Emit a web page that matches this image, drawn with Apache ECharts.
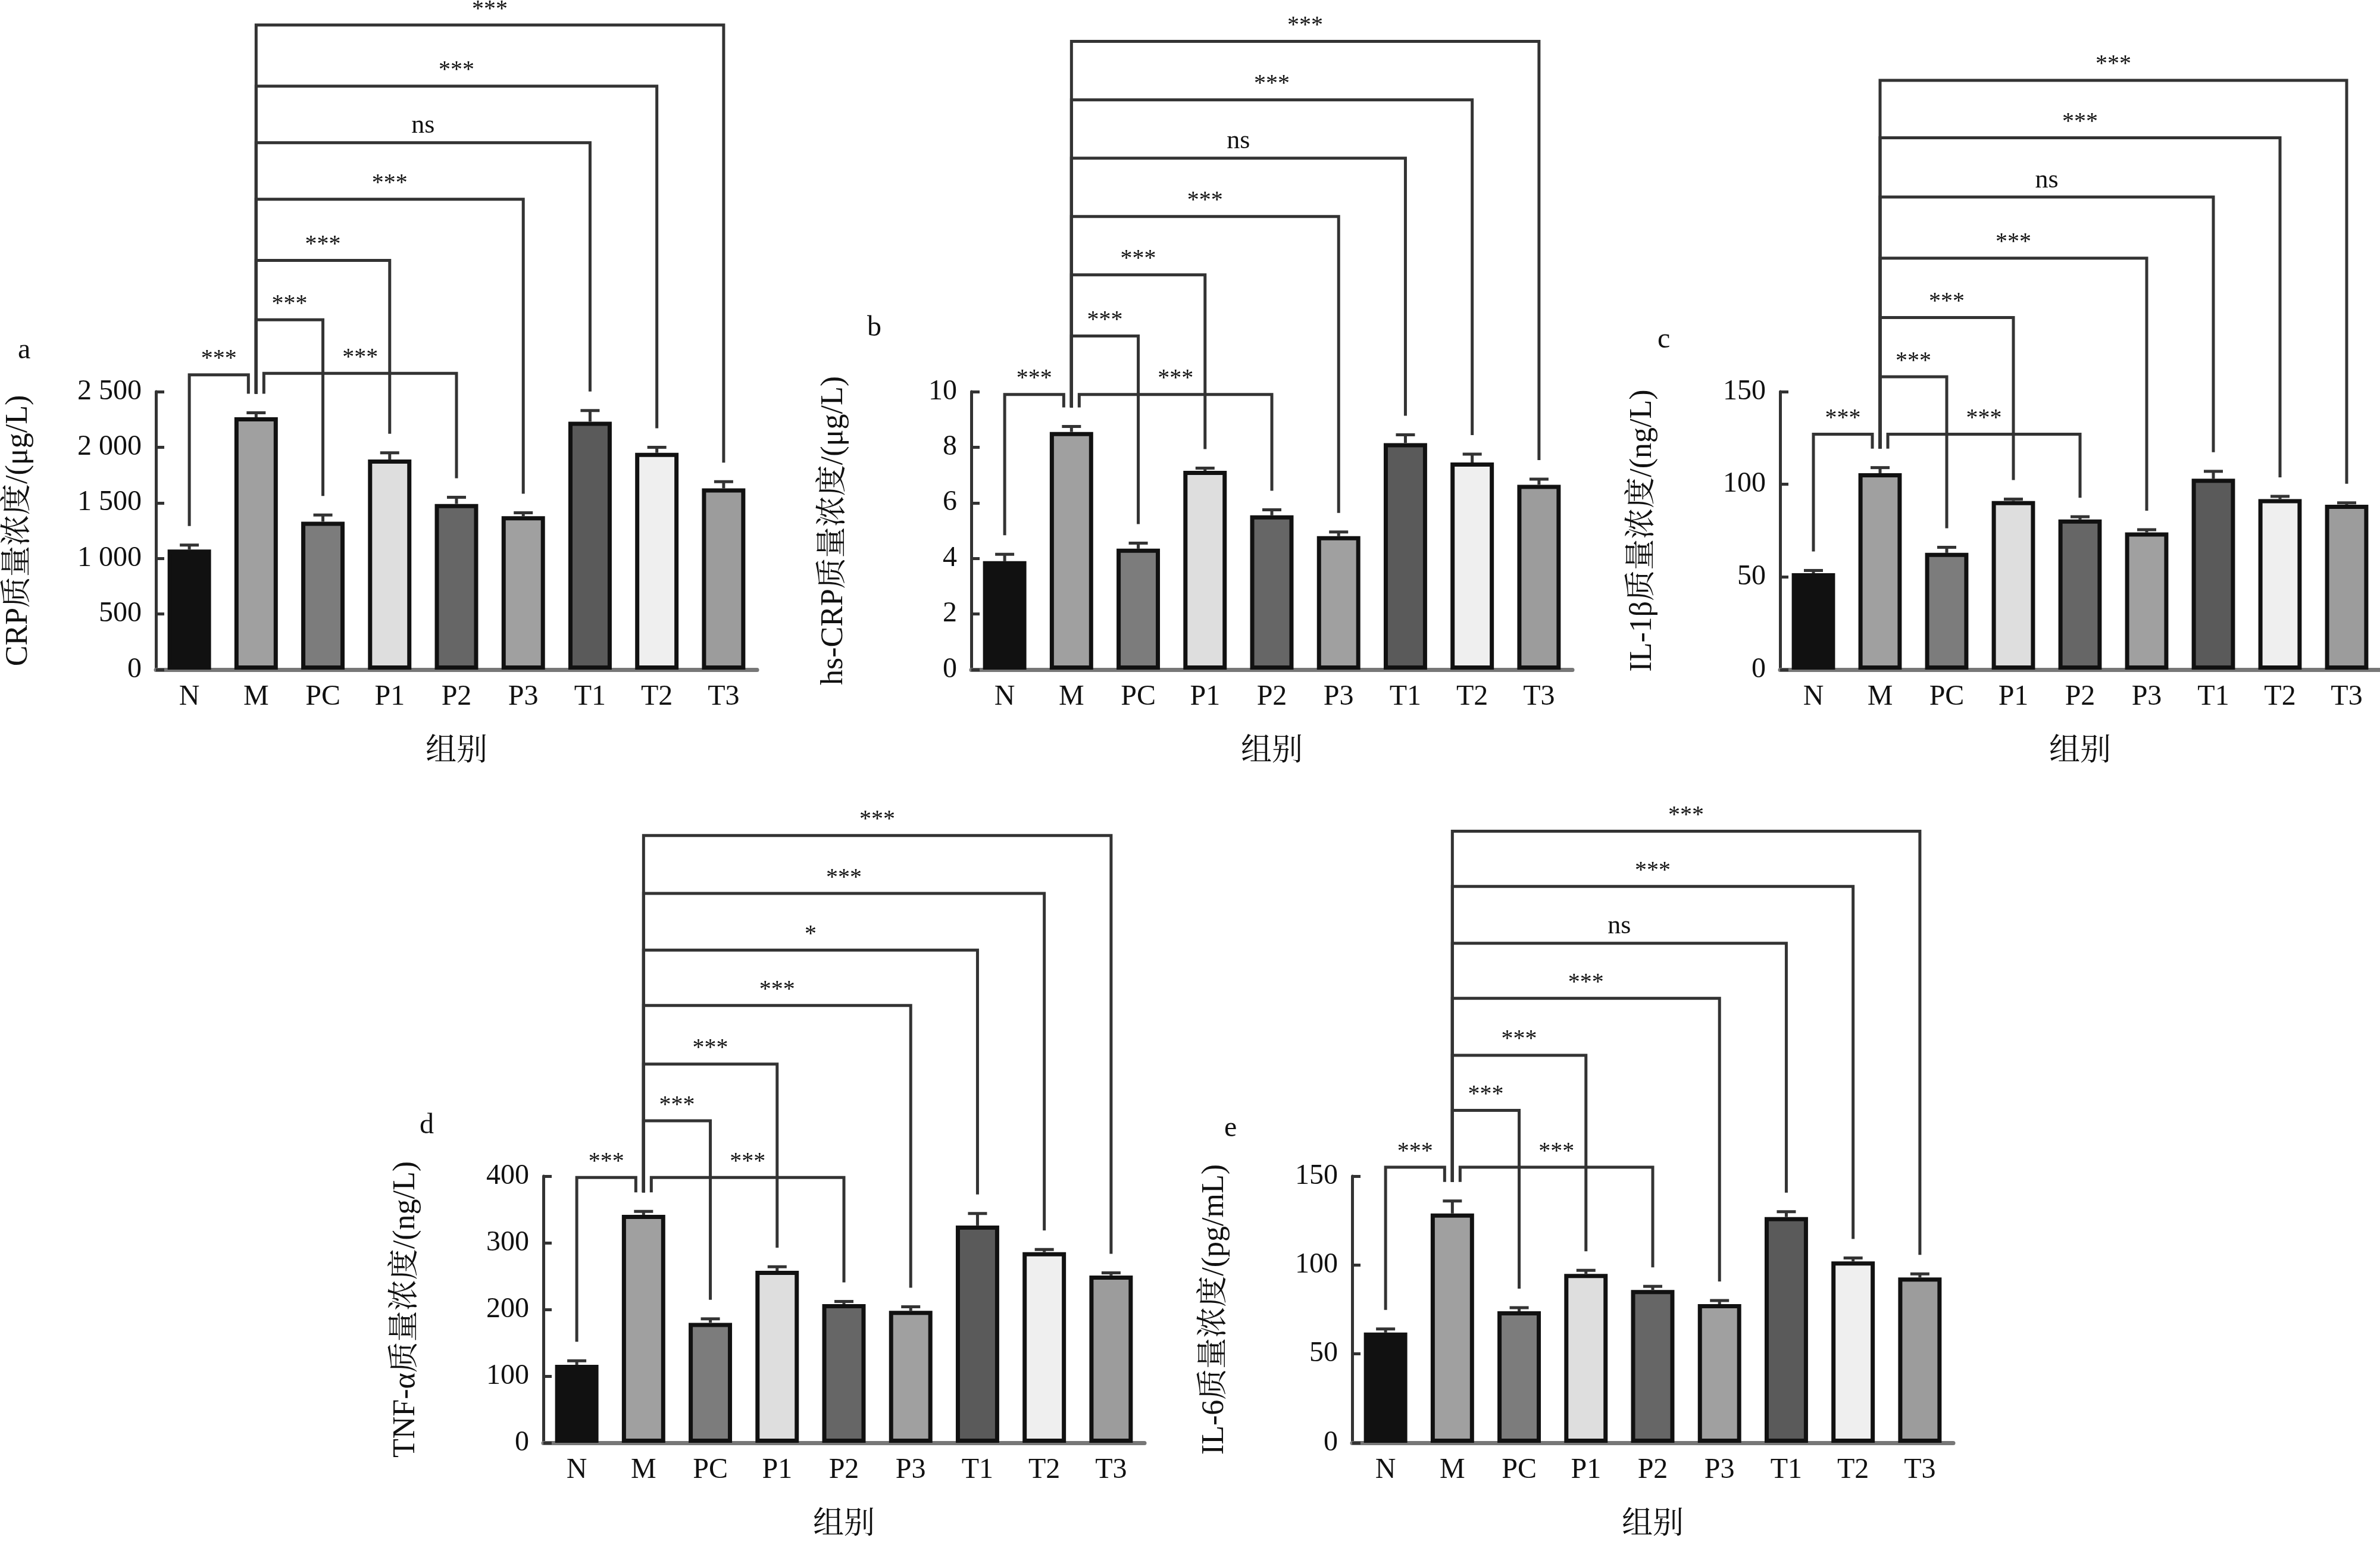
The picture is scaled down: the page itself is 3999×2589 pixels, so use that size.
<!DOCTYPE html>
<html>
<head>
<meta charset="utf-8">
<title>炎症因子质量浓度</title>
<script src="https://cdn.jsdelivr.net/npm/echarts/dist/echarts.min.js"></script>
</head>
<body style="margin:0;background:#fff">
<div id="chart-container" style="width:3999px;height:2589px;"></div>
<script>
var groups = ['N', 'M', 'PC', 'P1', 'P2', 'P3', 'T1', 'T2', 'T3'];
var barColors = ['#111111', '#a0a0a0', '#7c7c7c', '#dedede', '#666666', '#a0a0a0', '#5a5a5a', '#efefef', '#9c9c9c'];

// 各指标均值与误差
var crpVals = [1080, 2270, 1330, 1890, 1490, 1380, 2230, 1950, 1630];
var crpErr = [40, 40, 60, 60, 60, 30, 100, 50, 60];
var hscrpVals = [3.9, 8.55, 4.35, 7.15, 5.55, 4.8, 8.15, 7.45, 6.65];
var hscrpErr = [0.25, 0.2, 0.2, 0.1, 0.2, 0.15, 0.3, 0.3, 0.2];
var il1Vals = [52, 106, 63, 91, 81, 74, 103, 92, 89];
var il1Err = [1.5, 3, 3, 1, 1.5, 1.5, 4, 1.5, 1];
var tnfVals = [117, 342, 180, 258, 208, 198, 326, 286, 251];
var tnfErr = [6, 5, 6, 6, 4, 6, 18, 4, 4];
var il6Vals = [62, 129, 74, 95, 86, 78, 127, 102, 93];
var il6Err = [2, 7, 2, 2, 2, 2, 3, 2, 2];

// 显著性标记: [起点组, 终点组, 标注高度, 标注]
var crpSig = [[0, 1, 2651, '***'], [1, 2, 3146, '***'], [1, 4, 2665, '***'], [1, 3, 3681, '***'], [1, 5, 4231, '***'], [1, 6, 4739, 'ns'], [1, 7, 5247, '***'], [1, 8, 5797, '***']];
var hscrpSig = [[0, 1, 9.9, '***'], [1, 2, 12.0, '***'], [1, 4, 9.9, '***'], [1, 3, 14.2, '***'], [1, 5, 16.3, '***'], [1, 6, 18.4, 'ns'], [1, 7, 20.5, '***'], [1, 8, 22.6, '***']];
var il1Sig = [[0, 1, 127, '***'], [1, 2, 158, '***'], [1, 4, 127, '***'], [1, 3, 190, '***'], [1, 5, 222, '***'], [1, 6, 255, 'ns'], [1, 7, 287, '***'], [1, 8, 318, '***']];
var tnfSig = [[0, 1, 398, '***'], [1, 2, 483, '***'], [1, 4, 398, '***'], [1, 3, 568, '***'], [1, 5, 656, '***'], [1, 6, 739, '*'], [1, 7, 824, '***'], [1, 8, 911, '***']];
var il6Sig = [[0, 1, 155, '***'], [1, 2, 187, '***'], [1, 4, 155, '***'], [1, 3, 218, '***'], [1, 5, 250, '***'], [1, 6, 281, 'ns'], [1, 7, 313, '***'], [1, 8, 344, '***']];

var panels = [
    {letter: 'a', name: 'CRP质量浓度/(μg/L)', vals: crpVals, err: crpErr, sig: crpSig, max: 2500, step: 500, left: 262, top: 658, lx: 25, ly: 560},
    {letter: 'b', name: 'hs-CRP质量浓度/(μg/L)', vals: hscrpVals, err: hscrpErr, sig: hscrpSig, max: 10, step: 2, left: 1632, top: 658, lx: 1452, ly: 522},
    {letter: 'c', name: 'IL-1β质量浓度/(ng/L)', vals: il1Vals, err: il1Err, sig: il1Sig, max: 150, step: 50, left: 2991, top: 658, lx: 2780, ly: 542},
    {letter: 'd', name: 'TNF-α质量浓度/(ng/L)', vals: tnfVals, err: tnfErr, sig: tnfSig, max: 400, step: 100, left: 913, top: 1976, lx: 700, ly: 1862},
    {letter: 'e', name: 'IL-6质量浓度/(pg/mL)', vals: il6Vals, err: il6Err, sig: il6Sig, max: 150, step: 50, left: 2272, top: 1976, lx: 2052, ly: 1867}
];

var font = '"Liberation Serif", "Noto Serif CJK SC", "Noto Sans CJK SC", serif';
var grids = [], xAxes = [], yAxes = [], series = [], titles = [];

panels.forEach(function (p, k) {
    grids.push({left: p.left, top: p.top, width: 1010, height: 467});
    titles.push({text: p.letter, left: p.lx, top: p.ly, textStyle: {fontFamily: font, fontSize: 48, fontWeight: 'normal', color: '#111'}});
    xAxes.push({
        type: 'category', gridIndex: k, data: groups,
        name: '组别', nameLocation: 'middle', nameGap: 112,
        nameTextStyle: {fontFamily: font, fontSize: 52, color: '#111'},
        axisLine: {lineStyle: {color: '#777', width: 7}},
        axisTick: {inside: true, alignWithLabel: true, length: 22, lineStyle: {color: '#222', width: 4}},
        axisLabel: {fontFamily: font, fontSize: 48, color: '#111', margin: 22}
    });
    yAxes.push({
        type: 'value', gridIndex: k, min: 0, max: p.max, interval: p.step,
        name: p.name, nameLocation: 'middle', nameRotate: 90, nameGap: 205,
        nameTextStyle: {fontFamily: font, fontSize: 52, color: '#111'},
        splitLine: {show: false},
        axisLine: {show: true, lineStyle: {color: '#333', width: 5}},
        axisTick: {show: true, inside: true, length: 14, lineStyle: {color: '#333', width: 5}},
        axisLabel: {
            fontFamily: font, fontSize: 48, color: '#111', margin: 24,
            formatter: function (v) { return v >= 1000 ? String(v).replace(/(\d)(\d{3})$/, '$1 $2') : String(v); }
        }
    });
    series.push({
        type: 'bar', xAxisIndex: k, yAxisIndex: k, barWidth: '65%',
        data: p.vals.map(function (v, i) {
            return {value: v, itemStyle: {color: barColors[i], borderColor: '#111', borderWidth: 7}};
        })
    });
    // 误差线
    series.push({
        type: 'custom', xAxisIndex: k, yAxisIndex: k, clip: false, z: 3,
        data: p.vals.map(function (v, i) { return [i, v, p.err[i]]; }),
        renderItem: function (params, api) {
            var lo = api.coord([api.value(0), api.value(1)]);
            var hi = api.coord([api.value(0), api.value(1) + api.value(2)]);
            var st = {stroke: '#333', lineWidth: 5};
            return {type: 'group', children: [
                {type: 'line', shape: {x1: lo[0], y1: lo[1], x2: hi[0], y2: hi[1]}, style: st},
                {type: 'line', shape: {x1: hi[0] - 16, y1: hi[1], x2: hi[0] + 16, y2: hi[1]}, style: st}
            ]};
        }
    });
    // 显著性括号
    series.push({
        type: 'custom', xAxisIndex: k, yAxisIndex: k, clip: false, z: 4,
        data: p.sig.map(function (s) { return [s[0], s[1], s[2], s[3]]; }),
        renderItem: function (params, api) {
            var a = api.value(0), b = api.value(1), lvl = api.value(2);
            var label = p.sig[params.dataIndex][3];
            var offA = 0, offB = 0;
            if (a === 0 && b === 1) offB = -13;
            if (a === 1 && b === 4) offA = 13;
            var pa = api.coord([a, lvl]), pb = api.coord([b, lvl]);
            var ta = api.coord([a, p.vals[a] + p.err[a]])[1] - 32;
            var tb = api.coord([b, p.vals[b] + p.err[b]])[1] - 32;
            var xa = pa[0] + offA, xb = pb[0] + offB;
            return {type: 'group', children: [
                {type: 'polyline', shape: {points: [[xa, ta], [xa, pa[1]], [xb, pa[1]], [xb, tb]]},
                    style: {stroke: '#333', lineWidth: 5, fill: null}},
                {type: 'text', x: (xa + xb) / 2, y: pa[1] - 6,
                    style: {text: label, fontFamily: font, fontSize: label === 'ns' ? 44 : 40, fill: '#111', align: 'center', verticalAlign: 'bottom'}}
            ]};
        }
    });
});

var chart = echarts.init(document.getElementById('chart-container'));
chart.setOption({
    animation: false,
    backgroundColor: '#fff',
    title: titles,
    grid: grids,
    xAxis: xAxes,
    yAxis: yAxes,
    series: series
});
</script>
</body>
</html>
